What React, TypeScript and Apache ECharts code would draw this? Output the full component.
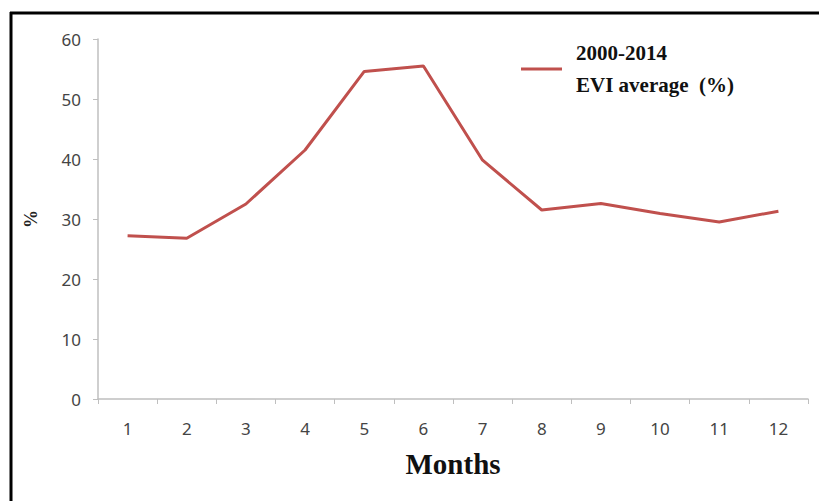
import React, { useEffect, useRef } from "react";
import * as echarts from "echarts";

const months = ["1", "2", "3", "4", "5", "6", "7", "8", "9", "10", "11", "12"];
const eviAverage = [27.2, 26.8, 32.5, 41.5, 54.6, 55.5, 39.8, 31.5, 32.6, 30.9, 29.5, 31.3];
const seriesName = "2000-2014\nEVI average  (%)";

export default function App() {
  const ref = useRef<HTMLDivElement>(null);
  useEffect(() => {
    if (!ref.current) return;
    const chart = echarts.init(ref.current, null, { renderer: "svg" });
    chart.setOption({
      animation: false,
      backgroundColor: "#ffffff",
      grid: { left: 98, right: 11, top: 39, bottom: 102, containLabel: false },
      legend: {
        data: [seriesName],
        left: 516,
        top: 32,
        icon: "rect",
        itemWidth: 41,
        itemHeight: 3,
        itemGap: 10,
        textStyle: {
          fontFamily: "Liberation Serif",
          fontWeight: "bold",
          fontSize: 21,
          lineHeight: 32,
          color: "#111111",
          padding: [0, 0, 0, 9],
        },
      },
      xAxis: {
        type: "category",
        data: months,
        boundaryGap: true,
        name: "Months",
        nameLocation: "middle",
        nameGap: 50,
        nameTextStyle: {
          fontFamily: "Liberation Serif",
          fontWeight: "bold",
          fontSize: 29,
          color: "#111111",
        },
        axisLine: { lineStyle: { color: "#bfbfbf", width: 1.5 } },
        axisTick: { show: true, length: 5, lineStyle: { color: "#bfbfbf" } },
        axisLabel: {
          fontFamily: "Noto Sans",
          fontSize: 17,
          color: "#444444",
          margin: 21,
        },
      },
      yAxis: {
        type: "value",
        min: 0,
        max: 60,
        interval: 10,
        name: "%",
        nameLocation: "middle",
        nameRotate: 90,
        nameGap: 58,
        nameTextStyle: {
          fontFamily: "Liberation Serif",
          fontWeight: "bold",
          fontSize: 18,
          color: "#222222",
        },
        axisLine: { show: true, lineStyle: { color: "#bfbfbf", width: 1.5 } },
        axisTick: { show: true, length: 5, lineStyle: { color: "#bfbfbf" } },
        splitLine: { show: false },
        axisLabel: {
          fontFamily: "Noto Sans",
          fontSize: 17,
          color: "#444444",
          margin: 17,
        },
      },
      series: [
        {
          name: seriesName,
          type: "line",
          data: eviAverage,
          symbol: "none",
          lineStyle: { color: "#c0504d", width: 3 },
          itemStyle: { color: "#c0504d" },
        },
      ],
      graphic: [
        {
          type: "line",
          shape: { x1: 10, y1: 13, x2: 819, y2: 13 },
          style: { stroke: "#000000", lineWidth: 3 },
        },
        {
          type: "line",
          shape: { x1: 11, y1: 12, x2: 11, y2: 501 },
          style: { stroke: "#000000", lineWidth: 3 },
        },
      ],
    });
    return () => chart.dispose();
  }, []);
  return (
    <div
      ref={ref}
      style={{ position: "fixed", left: 0, top: 0, width: 819, height: 501 }}
    />
  );
}
